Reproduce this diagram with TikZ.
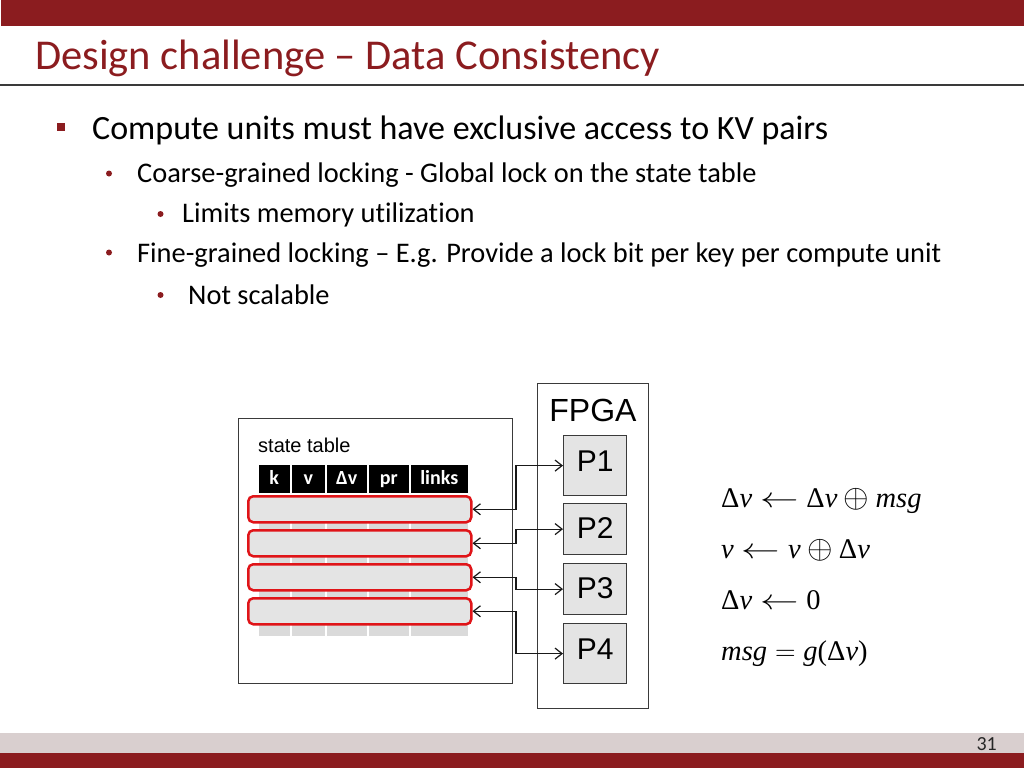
\documentclass[tikz,border=0pt]{standalone}
\usepackage{fix-cm}
\usepackage{fontspec}
\setmainfont{Carlito}[Ligatures=NoCommon]
\newfontfamily\arialf{Liberation Sans}
\newfontfamily\tms{Liberation Serif}
\usetikzlibrary{arrows.meta}
\definecolor{dred}{HTML}{8B1C1F}
\definecolor{band}{HTML}{D9CFCF}
\definecolor{rowred}{HTML}{E01418}
\definecolor{cellgray}{HTML}{DADADA}
\definecolor{boxgray}{HTML}{E4E4E4}
\definecolor{edge}{HTML}{3A3A3A}
\newcommand\fsz[1]{\fontsize{#1}{#1}\selectfont}
\newcommand\TT[1]{\textnormal{\tms #1}}
\newcommand\Larr{\mathrel{\scalebox{1.35}[1]{$\leftarrow$}}}
\newcommand\Oplus{\mathbin{\scalebox{1.15}{$\oplus$}}}
\begin{document}
\begin{tikzpicture}[x=1pt,y=-1pt,
  txt/.style={anchor=base west, inner sep=0pt},
  sqmark/.style={fill=dred, minimum size=8pt, inner sep=0pt},
  dotmark/.style={circle, fill=dred, minimum size=6pt, inner sep=0pt},
  hcell/.style={fill=black, draw=white, line width=1.5pt, minimum height=30pt, inner sep=0pt, text height=14pt, text depth=2pt, text=white, font=\fsz{20}\bfseries},
  bcell/.style={fill=cellgray, draw=white, line width=1.5pt, minimum height=143pt, inner sep=0pt},
  rowbox/.style={draw=rowred, line width=2.5pt, fill=boxgray, rounded corners=5pt, minimum width=223pt, minimum height=26pt, inner sep=0pt},
  pbox/.style={draw=edge, line width=1.2pt, fill=boxgray, minimum width=63pt, inner sep=0pt},
  plabel/.style={anchor=center, yshift=-26pt, font=\arialf\fsz{30}},
  frame/.style={draw=edge, line width=1.2pt},
  conn/.style={draw=black!90, line width=1.2pt, {Straight Barb[length=7pt,width=11pt]}-{Straight Barb[length=7pt,width=11pt]}},
  eq/.style={anchor=base west, inner sep=0pt, font=\fsz{28.5}}
]
\useasboundingbox (0,0) rectangle (1024,768);
% bars
\fill[dred] (1,0) rectangle (1024,25.7);
\fill[band] (0,733) rectangle (1024,753);
\fill[dred] (0,753) rectangle (1024,768);
\draw[edge, line width=1.5pt] (0,85) -- (1024,85);
\node[txt, text=dred, font=\fsz{42.5}] (title) at (35,69) {Design challenge – Data Consistency};
\node[anchor=base east, inner sep=0pt, font=\fsz{20}, text=black!85] (pnum) at (997,750) {31};

% bullets
\node[sqmark] (m1) at (61,127) {};
\node[txt, font=\fsz{34}] (b1) at (92,139) {Compute units must have exclusive access to KV pairs};
\node[dotmark] (m2) at (109,173.5) {};
\node[txt, font=\fsz{28.4}] (b2) at (137,182) {Coarse-grained locking - Global lock on the state table};
\node[dotmark] (m3) at (160.5,214) {};
\node[txt, font=\fsz{28.4}] (b3) at (182,222) {Limits memory utilization};
\node[dotmark] (m4) at (109,252.5) {};
\node[txt, font=\fsz{28.4}] (b4) at (137,262) {Fine-grained locking – E.g. Provide a lock bit per key per compute unit};
\node[dotmark] (m5) at (160.5,295) {};
\node[txt, font=\fsz{28.4}] (b5) at (188,304) {Not scalable};

% state table
\node[frame, minimum width=274pt, minimum height=265pt, inner sep=0pt, anchor=north west] (st) at (238,418) {};
\node[txt, font=\arialf\fsz{20}] (stl) at (258,452) {state table};
\node[hcell, minimum width=33pt, anchor=north west] (hk) at (257,463) {k};
\node[hcell, minimum width=35pt, anchor=north west] (hv) at (290,463) {v};
\node[hcell, minimum width=42pt, anchor=north west] (hdv) at (325,463) {Δv};
\node[hcell, minimum width=42pt, anchor=north west] (hpr) at (367,463) {pr};
\node[hcell, minimum width=59pt, anchor=north west] (hl) at (409,463) {links};
\node[bcell, minimum width=33pt, anchor=north west] (ck) at (257,493) {};
\node[bcell, minimum width=35pt, anchor=north west] (cv) at (290,493) {};
\node[bcell, minimum width=42pt, anchor=north west] (cdv) at (325,493) {};
\node[bcell, minimum width=42pt, anchor=north west] (cpr) at (367,493) {};
\node[bcell, minimum width=59pt, anchor=north west] (cl) at (409,493) {};
\node[rowbox, anchor=north west] (r1) at (247,495) {};
\node[rowbox, anchor=north west] (r2) at (247,529) {};
\node[rowbox, anchor=north west] (r3) at (247,563) {};
\node[rowbox, anchor=north west] (r4) at (247,597) {};

% FPGA
\node[frame, minimum width=111pt, minimum height=325pt, inner sep=0pt, anchor=north west] (fpga) at (537,383) {};
\node[font=\arialf\fsz{32}, inner sep=0pt] (fpgal) at (593,410) {FPGA};
\node[pbox, minimum height=60pt, anchor=north west, label={[plabel]north:P1}] (P1) at (563,435) {};
\node[pbox, minimum height=51pt, anchor=north west, label={[plabel, yshift=1pt]north:P2}] (P2) at (563,503) {};
\node[pbox, minimum height=51pt, anchor=north west, label={[plabel, yshift=1pt]north:P3}] (P3) at (563,563) {};
\node[pbox, minimum height=60pt, anchor=north west, label={[plabel]north:P4}] (P4) at (563,623) {};

% connectors
\coordinate (bus) at (516,0);
\draw[conn] (r1.east) -- (r1.east -| bus) |- (P1.west);
\draw[conn] (r2.east) -- (r2.east -| bus) |- (P2.west);
\draw[conn] (r3.east) -- (r3.east -| bus) |- (P3.west);
\draw[conn] (r4.east) -- (r4.east -| bus) |- (P4.west);

% equations
\node[eq] (e1) at (721,507) {$\TT{Δ\textit{v}} \Larr \TT{Δ\textit{v}} \Oplus \TT{\textit{msg}}$};
\node[eq] (e2) at (721,558) {$\TT{\textit{v}} \Larr \TT{\textit{v}} \Oplus \TT{Δ\textit{v}}$};
\node[eq] (e3) at (721,609) {$\TT{Δ\textit{v}} \Larr \TT{0}$};
\node[eq] (e4) at (721,660) {$\TT{\textit{msg}} = \TT{\textit{g}(Δ\textit{v})}$};
\end{tikzpicture}
\end{document}
